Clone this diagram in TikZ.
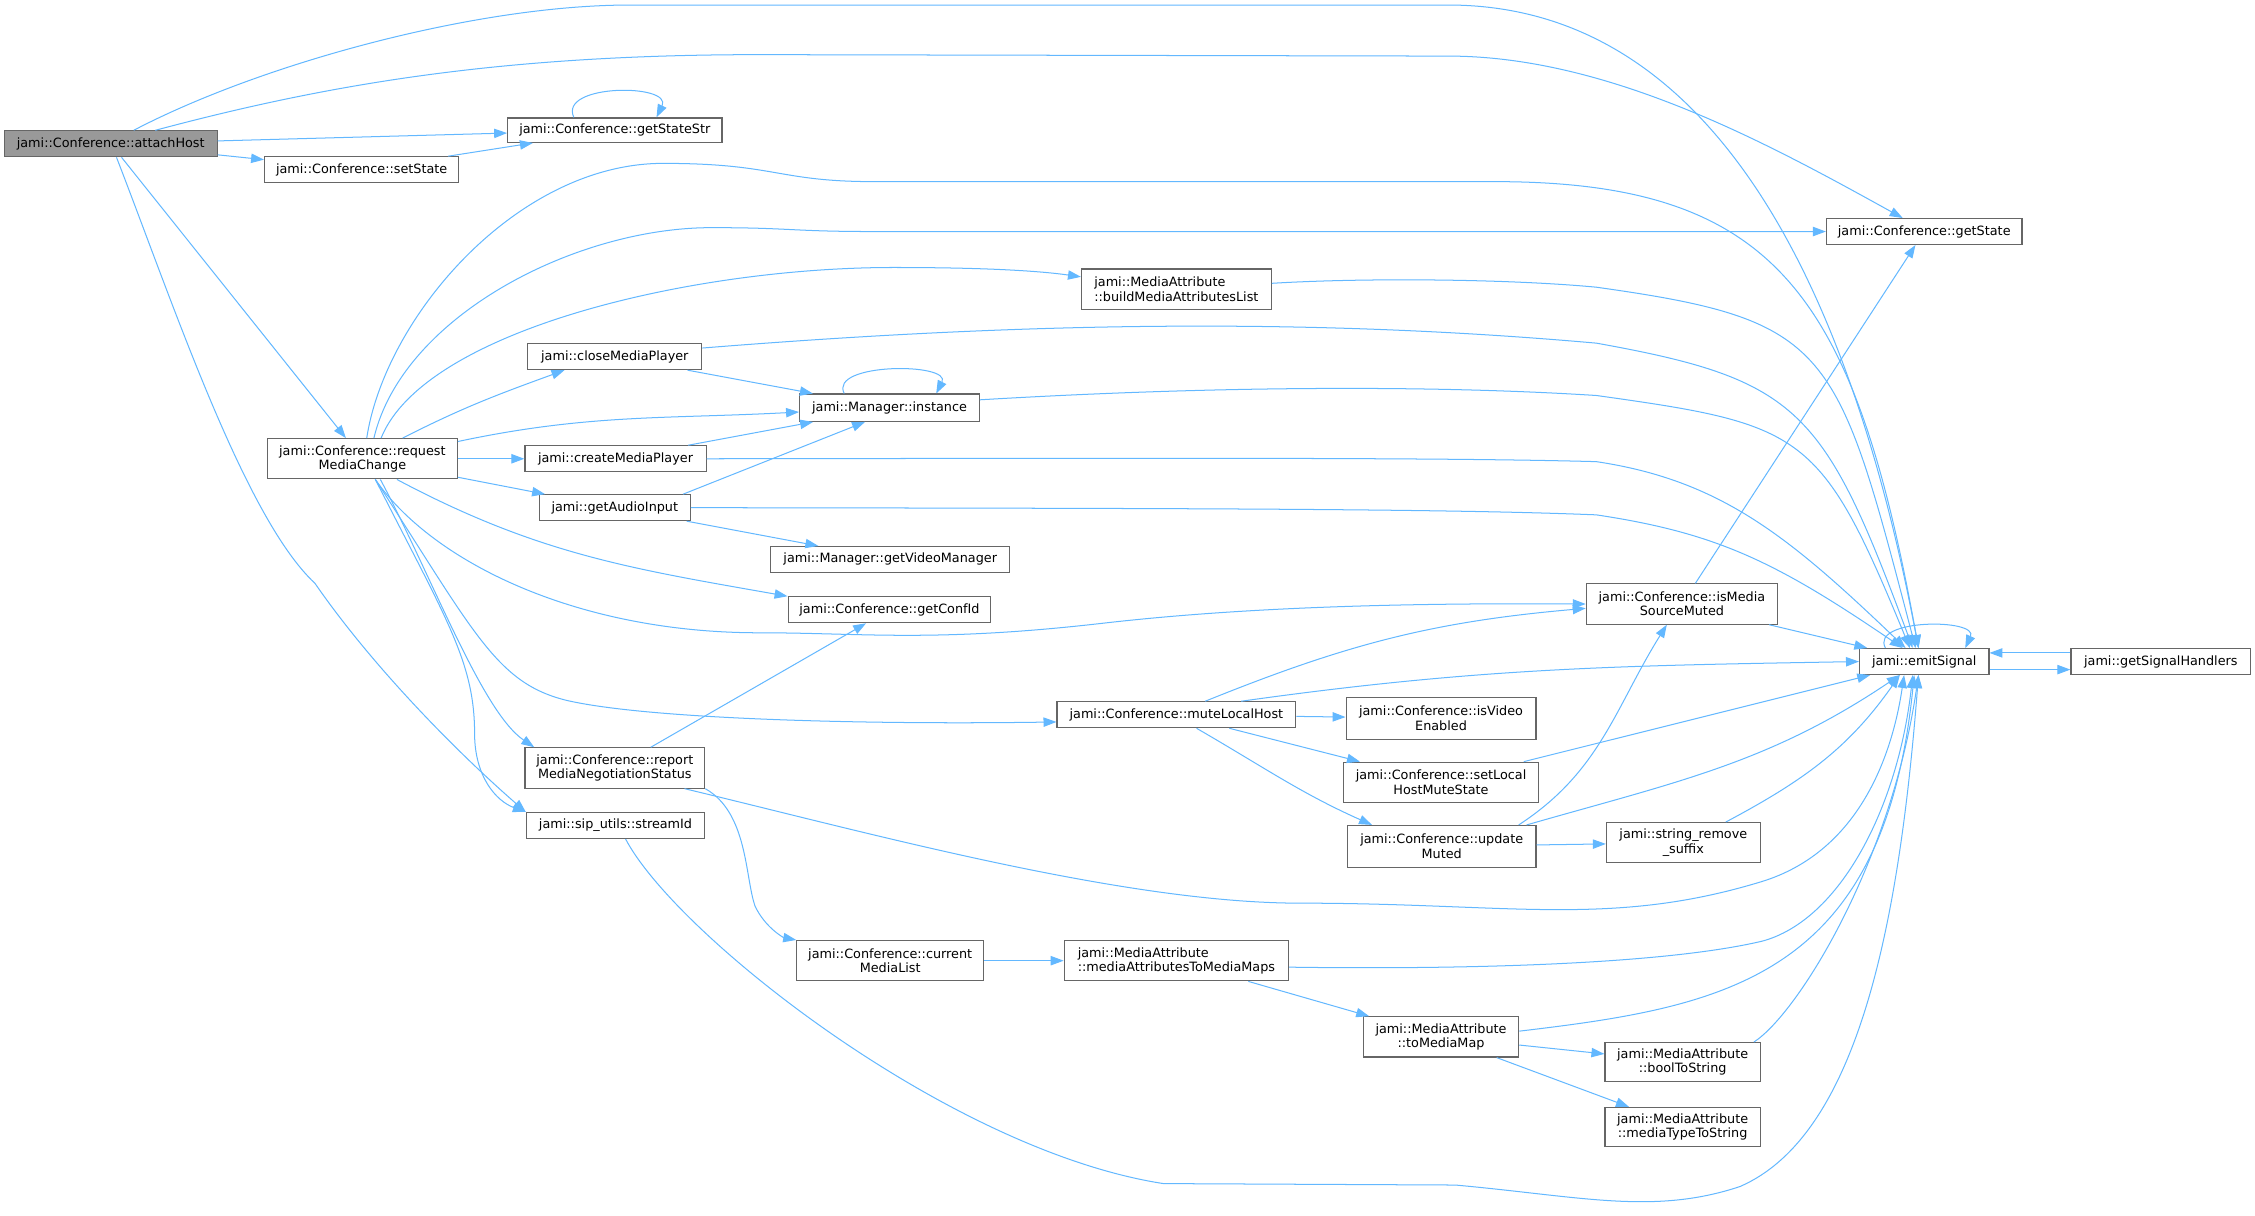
\documentclass[tikz,border=0pt]{standalone}
\usepackage{fontspec}
\setmainfont{DejaVu Sans}
\usetikzlibrary{arrows.meta}
\definecolor{callblue}{HTML}{63B8FF}
\definecolor{boxgray}{HTML}{666666}
\definecolor{rootgray}{HTML}{999999}

\tikzset{
    function box/.style={
        draw=boxgray,line width=.8pt,fill=white,
        inner sep=0pt,minimum height=18pt,
        font=\fontsize{8.9}{10}\selectfont
    },
    root box/.style={function box,fill=rootgray},
    call/.style={
        draw=callblue,line width=.7pt,
        -{Triangle[length=9pt,width=6.5pt]}
    }
}

\begin{document}
\begin{tikzpicture}[x=1pt,y=-1pt]
        \fill[white] (0,0) rectangle (1568,844.1);
        \node[root box,minimum width=148pt] (attachHost) at (77,100) {jami::Conference::attachHost};
        \node[function box,minimum width=149pt,minimum height=17pt] (getStateStr) at (427.5,90.5) {jami::Conference::getStateStr};
        \node[function box,minimum width=135pt] (setState) at (251.5,118) {jami::Conference::setState};
        \node[function box,minimum width=132pt,minimum height=28pt,align=center] (requestMediaChange) at (252,319) {jami::Conference::request\\MediaChange};
        \node[function box,minimum width=121pt] (closeMediaPlayer) at (427.5,248) {jami::closeMediaPlayer};
        \node[function box,minimum width=126pt] (createMediaPlayer) at (428,319) {jami::createMediaPlayer};
        \node[function box,minimum width=105pt] (getAudioInput) at (427.5,353) {jami::getAudioInput};
        \node[function box,minimum width=125pt,minimum height=28pt,align=center] (reportMedia) at (427.5,534) {jami::Conference::report\\MediaNegotiationStatus};
        \node[function box,minimum width=124pt] (streamId) at (428,574) {jami::sip\_utils::streamId};
        \node[function box,minimum width=132pt,minimum height=28pt,align=left] (buildList) at (818,201) {jami::MediaAttribute\\::buildMediaAttributesList};
        \node[function box,minimum width=125pt,minimum height=19pt] (instance) at (618.5,283.5) {jami::Manager::instance};
        \node[function box,minimum width=166pt] (getVideoManager) at (619,389) {jami::Manager::getVideoManager};
        \node[function box,minimum width=141pt] (getConfId) at (618.5,424) {jami::Conference::getConfId};
        \node[function box,minimum width=136pt] (getState) at (1338,161) {jami::Conference::getState};
        \node[function box,minimum width=133pt,minimum height=28pt,align=center] (isMediaSourceMuted) at (1169.5,420) {jami::Conference::isMedia\\SourceMuted};
        \node[function box,minimum width=90pt] (emitSignal) at (1338,460) {jami::emitSignal};
        \node[function box,minimum width=125pt] (getSignalHandlers) at (1502.5,460) {jami::getSignalHandlers};
        \node[function box,minimum width=166pt] (muteLocalHost) at (818,497) {jami::Conference::muteLocalHost};
        \node[function box,minimum width=132pt,minimum height=29pt,align=center] (isVideoEnabled) at (1002,499.5) {jami::Conference::isVideo\\Enabled};
        \node[function box,minimum width=136pt,minimum height=28pt,align=center] (setLocalHostMuteState) at (1002,544) {jami::Conference::setLocal\\HostMuteState};
        \node[function box,minimum width=131pt,minimum height=29pt,align=center] (updateMuted) at (1002.5,588.5) {jami::Conference::update\\Muted};
        \node[function box,minimum width=107pt,minimum height=28pt,align=center] (stringRemoveSuffix) at (1170.5,586) {jami::string\_remove\\\_suffix};
        \node[function box,minimum width=130pt,minimum height=28pt,align=center] (currentMediaList) at (619,668) {jami::Conference::current\\MediaList};
        \node[function box,minimum width=156pt,minimum height=28pt,align=left] (toMediaMaps) at (818,668) {jami::MediaAttribute\\::mediaAttributesToMediaMaps};
        \node[function box,minimum width=108pt,minimum height=28pt,align=center] (toMediaMap) at (1002,721) {jami::MediaAttribute\\::toMediaMap};
        \node[function box,minimum width=108pt,minimum height=27pt,align=center] (boolToString) at (1170,738.5) {jami::MediaAttribute\\::boolToString};
        \node[function box,minimum width=108pt,minimum height=27pt,align=center] (mediaTypeToString) at (1170,783.5) {jami::MediaAttribute\\::mediaTypeToString};

        \foreach \src/\dst in {attachHost/getStateStr,attachHost/setState,setState/getStateStr,
            attachHost/requestMediaChange,requestMediaChange/createMediaPlayer,requestMediaChange/getAudioInput,
            closeMediaPlayer/instance,createMediaPlayer/instance,getAudioInput/getVideoManager,
            reportMedia/getConfId,currentMediaList/toMediaMaps,toMediaMaps/toMediaMap,
            toMediaMap/boolToString,toMediaMap/mediaTypeToString,muteLocalHost/isVideoEnabled,
            muteLocalHost/setLocalHostMuteState,updateMuted/stringRemoveSuffix,
            isMediaSourceMuted/emitSignal,isMediaSourceMuted/getState,setLocalHostMuteState/emitSignal}
            \draw[call] (\src) -- (\dst);

        \draw[call] ([xshift=16]attachHost.north) .. controls (180,45) and (330,3.5) .. (438,3.5) -- (1007,3.5)
            .. controls (1207,3.5) and (1293,234) .. ([xshift=-4]emitSignal.north);
        \draw[call] ([xshift=31]attachHost.north) .. controls (230,58) and (350,38) .. (528,38) -- (1007,39)
            .. controls (1119.5,39) and (1232,101.3) .. ([xshift=-15]getState.north);
        \draw[call] ([xshift=4]attachHost.south) .. controls (120,210) and (170,360) .. (219,405.6)
            .. controls (260,465) and (320,525) .. (streamId.north west);

        \draw[call] ([xshift=3]requestMediaChange.north) .. controls (268,220) and (360,113.6) .. (461,113.6)
            .. controls (540,113.6) and (540,126.3) .. (608,126.3) -- (1040,126.3)
            .. controls (1236,126.5) and (1290,206) .. ([xshift=-4]emitSignal.north);
        \draw[call] ([xshift=8]requestMediaChange.north) .. controls (280,220) and (400,158.3) .. (494.6,158.3)
            .. controls (550,158.3) and (550,161) .. (608,161) -- (getState.west);
        \draw[call] ([xshift=13]requestMediaChange.north) .. controls (295,230) and (480,186) .. (621,186)
            .. controls (680,186) and (720,188) .. ([yshift=8.5]buildList.west);
        \draw[call] ([xshift=28]requestMediaChange.north) to[out=27,in=200] ([xshift=-35]closeMediaPlayer.south);
        \draw[call] ([yshift=12]requestMediaChange.east) to[out=12,in=183] ([yshift=-3]instance.west);
        \draw[call] ([xshift=24]requestMediaChange.south) to[out=-28,in=170] (getConfId.north west);
        \draw[call] ([xshift=9]requestMediaChange.south) .. controls (300,390) and (400,440) .. (528,440)
            .. controls (600,440) and (650,447) .. (770,433)
            .. controls (850,424) and (950,419) .. (isMediaSourceMuted.west);
        \draw[call] ([xshift=9]requestMediaChange.south) .. controls (330,440) and (345,475) .. (394,487)
            .. controls (450,500) and (600,504) .. ([yshift=-5]muteLocalHost.west);
        \draw[call] ([xshift=12.5]requestMediaChange.south) .. controls (300,400) and (335,495) .. ([xshift=-56]reportMedia.north);
        \draw[call] ([xshift=9]requestMediaChange.south) .. controls (310,430) and (330,460) .. (330,510)
            .. controls (330,540) and (345,557) .. (streamId.north west);

        \draw[call] ([yshift=6]closeMediaPlayer.east) .. controls (700,225) and (900,220) .. (1110,238.6)
            .. controls (1251.5,264) and (1268.5,284.7) .. ([xshift=-8]emitSignal.north);
        \draw[call] ([yshift=5.5]instance.east) .. controls (850,268) and (1000,268) .. (1110,275)
            .. controls (1254.6,295.2) and (1266,300) .. ([xshift=-10]emitSignal.north);
        \draw[call] ([yshift=4]buildList.east) .. controls (950,193) and (1050,194) .. (1110,199.7)
            .. controls (1274,222.7) and (1277,240.4) .. ([xshift=-6]emitSignal.north);
        \draw[call] (createMediaPlayer.east) .. controls (800,318.6) and (1000,318) .. (1110,321)
            .. controls (1197,334) and (1244.5,373.6) .. ([xshift=-13]emitSignal.north);
        \draw[call] (getAudioInput.east) .. controls (800,353.5) and (1000,353.5) .. (1110,358)
            .. controls (1194,370.6) and (1235,390.7) .. ([xshift=-15]emitSignal.north);
        \draw[call] ([xshift=47.5]getAudioInput.north) -- ([xshift=-17]instance.south);

        \draw[call] (reportMedia.south east) .. controls (520,565) and (518,610) .. (525,630)
            .. controls (532,645) and (545,652) .. (currentMediaList.north west);
        \draw[call] ([xshift=48.5]reportMedia.south) .. controls (600,578) and (780,628) .. (904,628)
            .. controls (1050,628) and (1120,645) .. (1225,613)
            .. controls (1290,593) and (1315,530) .. ([xshift=-14]emitSignal.south);
        \draw[call] ([xshift=7]streamId.south) .. controls (470,650) and (660,800) .. (809,823) -- (1012,824)
            .. controls (1100,832) and (1150,845) .. (1210,825)
            .. controls (1290,790) and (1320,650) .. ([xshift=-4]emitSignal.south);
        \draw[call] ([yshift=-4.5]toMediaMaps.east) .. controls (1000,674) and (1150,672) .. (1225,654.5)
            .. controls (1280,640) and (1320,560) .. ([xshift=-8]emitSignal.south);
        \draw[call] ([yshift=4]toMediaMap.east) .. controls (1200,700) and (1310,680) .. ([xshift=-7]emitSignal.south);
        \draw[call] ([xshift=49.5]boolToString.north) .. controls (1250,705) and (1315,600) .. ([xshift=-4]emitSignal.south);

        \draw[call] ([xshift=20]muteLocalHost.north) to[out=22,in=185] ([yshift=-3]isMediaSourceMuted.west);
        \draw[call] ([xshift=45]muteLocalHost.north) to[out=8,in=181] (emitSignal.west);
        \draw[call] ([xshift=14]muteLocalHost.south) to[out=-30,in=156] ([xshift=-48.5]updateMuted.north);
        \draw[call] ([xshift=59]updateMuted.north) to[out=16,in=214] ([xshift=-17]emitSignal.south);
        \draw[call] ([xshift=53.5]updateMuted.north) to[out=33,in=238] ([xshift=-10.5]isMediaSourceMuted.south);
        \draw[call] ([xshift=29.5]stringRemoveSuffix.north) to[out=28,in=235] ([xshift=-17]emitSignal.south);

        \draw[call] ([yshift=6]getSignalHandlers.west) -- ([yshift=6]emitSignal.east);
        \draw[call] ([yshift=-5.6]emitSignal.east) -- ([yshift=-5.6]getSignalHandlers.west);

        \draw[call] ([xshift=-28.5]getStateStr.north) .. controls (388,58) and (468,58) .. ([xshift=29]getStateStr.north);
        \draw[call] ([xshift=-31.5]instance.north) .. controls (576,252) and (662,252) .. ([xshift=32.5]instance.north);
        \draw[call] ([xshift=-27]emitSignal.north) .. controls (1300,430) and (1376,430) .. ([xshift=28.5]emitSignal.north);
    \end{tikzpicture}
\end{document}
